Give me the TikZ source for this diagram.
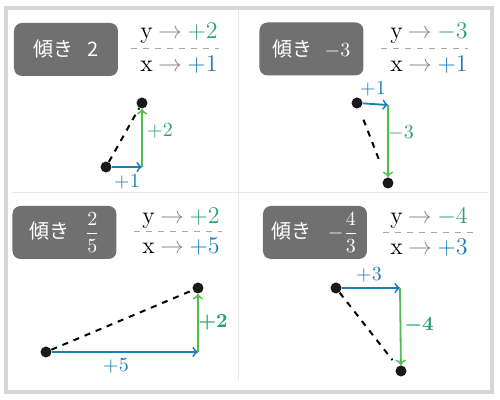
\documentclass[tikz,border=0pt]{standalone}
\usepackage{fontspec}
\newfontfamily\jpfont{Noto Sans CJK JP}
\definecolor{risegreen}{HTML}{2E9E7A}
\definecolor{arrowgreen}{HTML}{4DBE4D}
\definecolor{runblue}{HTML}{1A7DB6}
\definecolor{framegray}{HTML}{D6D6D6}
\definecolor{boxgray}{HTML}{707070}
\definecolor{arrowgray}{HTML}{8A8A8A}
\newcommand{\ratio}[3]{$\mathrm{#1}\mkern4mu{\color{arrowgray}{\rightarrow}}\mkern4mu{\color{#2}{#3}}$}
\begin{document}
\begin{tikzpicture}[x=0.5pt,y=-0.5pt,
  tagbox/.style={fill=boxgray,rounded corners=4pt,text=white,minimum width=52pt,minimum height=26.5pt,inner sep=0pt},
  dot/.style={circle,fill=black!90,inner sep=0pt,minimum size=5.5pt},
  ratiotext/.style={font=\large,inner sep=0pt},
  ratioline/.style={gray!70,dashed,line width=0.5pt},
  runarrow/.style={->,runblue,line width=0.9pt},
  risearrow/.style={->,arrowgreen,line width=0.9pt},
  slopeline/.style={dashed,line width=1pt,dash pattern=on 3pt off 3pt}]
\useasboundingbox (0,0) rectangle (500,400);
% frame and dividers
\draw[framegray,line width=2pt] (6.5,8) rectangle (492,392);
\draw[framegray!60,line width=0.5pt] (239,10) -- (239,380);
\draw[framegray!60,line width=0.5pt] (12,193) -- (488,193);

% top left
\node[tagbox] (tl-box) at (66,49.5) {\jpfont 傾き\hspace{7pt}2};
\node[ratiotext] (tl-num) at (179,33) {\ratio{y}{risegreen}{+2}};
\node[ratiotext] (tl-den) at (179,65) {\ratio{x}{runblue}{+1}};
\draw[ratioline] (131,49) -- (219,49);
\node[dot] (tl-a) at (106,167) {};
\node[dot] (tl-b) at (142,103) {};
\coordinate (tl-c) at (142,167);
\draw[runarrow] (tl-a) -- (tl-c);
\draw[risearrow] (tl-c) -- (tl-b);
\draw[slopeline] (tl-a) -- (tl-b);
\node[runblue] (tl-run) at (127,182) {$+1$};
\node[risegreen] (tl-rise) at (160,131) {$+2$};

% top right
\node[tagbox] (tr-box) at (311.5,49) {\jpfont 傾き\hspace{6pt}$-3$};
\node[ratiotext] (tr-num) at (429,33) {\ratio{y}{risegreen}{-3}};
\node[ratiotext] (tr-den) at (429,65) {\ratio{x}{runblue}{+1}};
\draw[ratioline] (381,49) -- (468,49);
\node[dot] (tr-a) at (357,103) {};
\node[dot] (tr-b) at (388,183) {};
\coordinate (tr-c) at (388,105);
\draw[runarrow] (tr-a) -- (tr-c);
\draw[risearrow] (tr-c) -- (tr-b);
\draw[slopeline,shorten <=6pt,shorten >=7pt] (tr-a) -- (tr-b);
\node[runblue] (tr-run) at (373,89) {$+1$};
\node[risegreen] (tr-rise) at (401,133) {$-3$};

% bottom left
\node[tagbox] (bl-box) at (64.5,232.5) {\jpfont 傾き\hspace{8pt}$\displaystyle\frac{2}{5}$};
\node[ratiotext] (bl-num) at (181,218) {\ratio{y}{risegreen}{+2}};
\node[ratiotext] (bl-den) at (181,247) {\ratio{x}{runblue}{+5}};
\draw[ratioline] (134,232) -- (222,232);
\node[dot] (bl-a) at (46,352) {};
\node[dot] (bl-b) at (198,288) {};
\coordinate (bl-c) at (198,352);
\draw[runarrow] (bl-a) -- (bl-c);
\draw[risearrow] (bl-c) -- (bl-b);
\draw[slopeline] (bl-a) -- (bl-b);
\node[runblue] (bl-run) at (116,366) {$+5$};
\node[risegreen,font=\boldmath] (bl-rise) at (213,322) {$\mathbf{+2}$};

% bottom right
\node[tagbox] (br-box) at (315,232.5) {\jpfont 傾き\hspace{8pt}$-\displaystyle\frac{4}{3}$};
\node[ratiotext] (br-num) at (429,218) {\ratio{y}{risegreen}{-4}};
\node[ratiotext] (br-den) at (429,248) {\ratio{x}{runblue}{+3}};
\draw[ratioline] (383,233) -- (474,233);
\node[dot] (br-a) at (336,288) {};
\node[dot] (br-b) at (401,371) {};
\coordinate (br-c) at (400,288);
\draw[runarrow] (br-a) -- (br-c);
\draw[risearrow] (br-c) -- (br-b);
\draw[slopeline,shorten >=4pt] (br-a) -- (br-b);
\node[runblue] (br-run) at (369,275) {$+3$};
\node[risegreen,font=\boldmath] (br-rise) at (419,325) {$\mathbf{-4}$};
\end{tikzpicture}
\end{document}
